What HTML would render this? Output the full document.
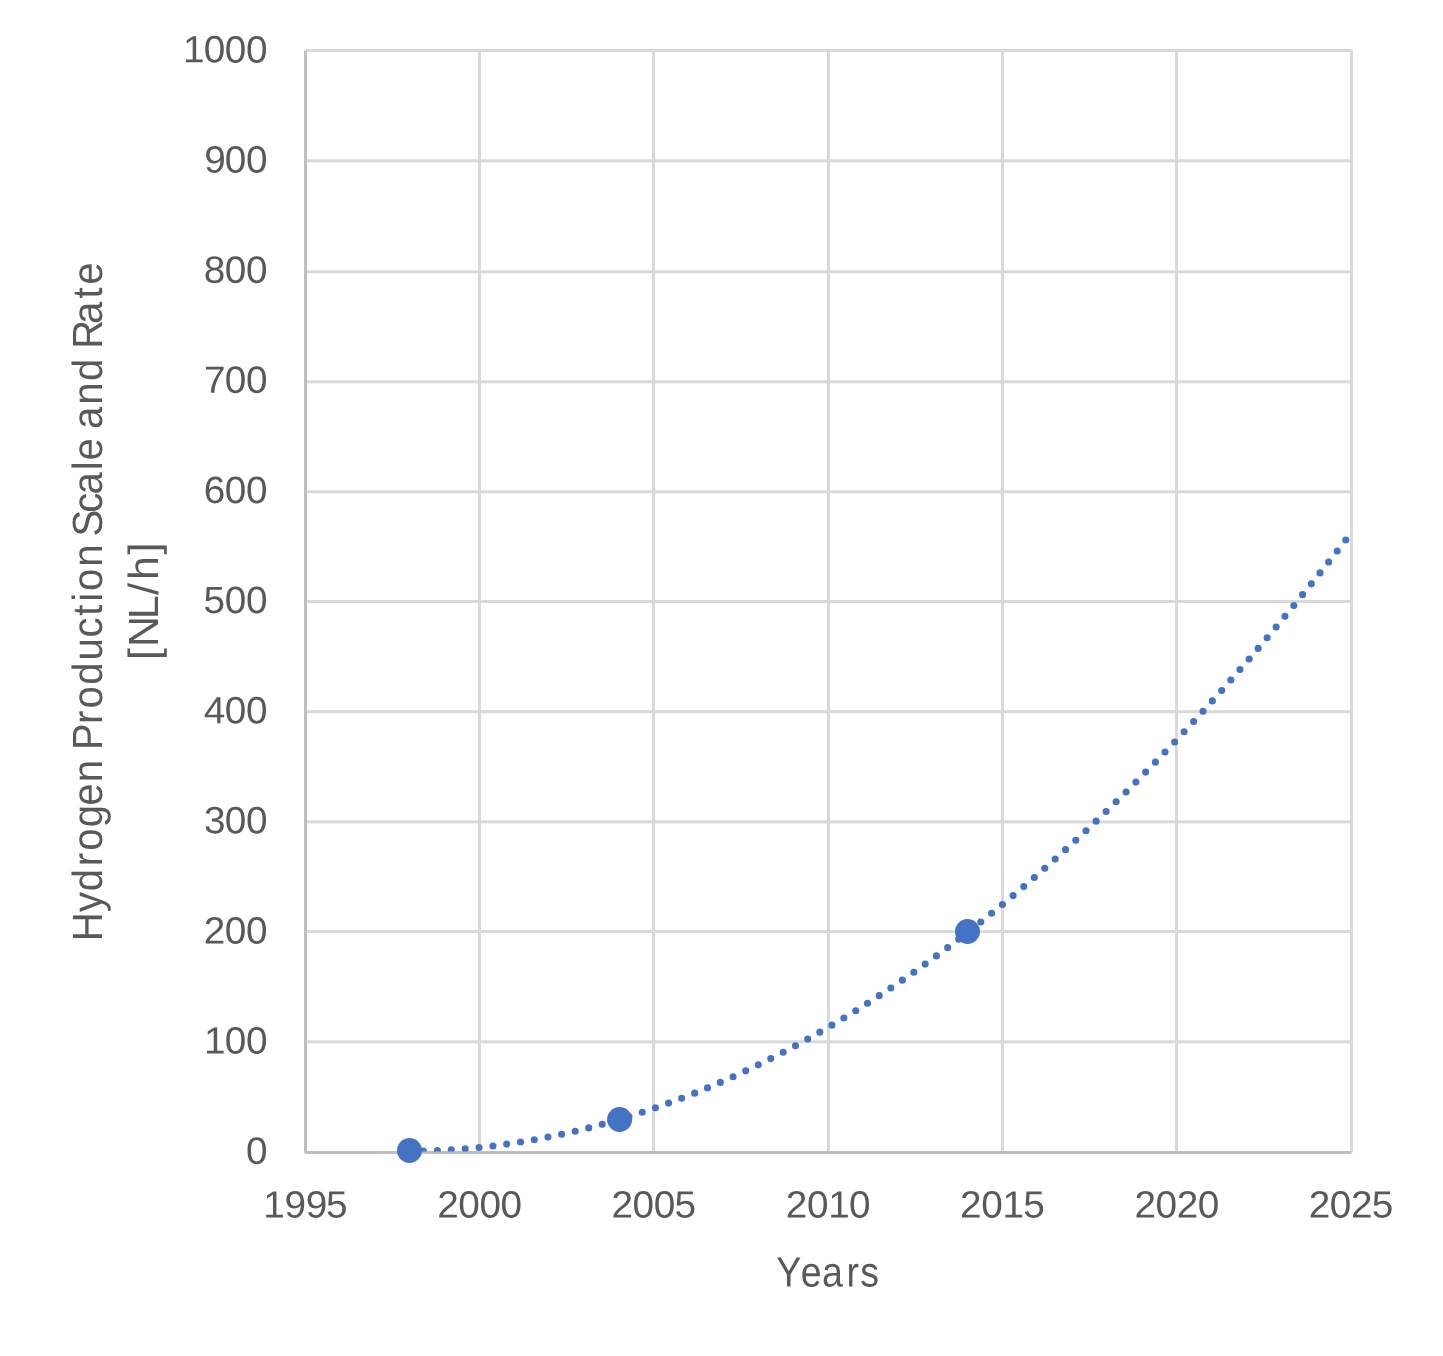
<!DOCTYPE html>
<html lang="en"><head><meta charset="utf-8">
<title>Hydrogen Production Scale and Rate</title>
<style>
html,body{margin:0;padding:0;background:#fff;}
body{width:1443px;height:1356px;overflow:hidden;}
svg{display:block;}
text{font-family:"Liberation Sans",sans-serif;font-kerning:none;text-rendering:geometricPrecision;fill:#595959;}
.tick{font-size:38.0px;}
.title{font-size:42.2px;}
</style></head><body>
<svg width="1443" height="1356" viewBox="0 0 1443 1356">
<rect x="0" y="0" width="1443" height="1356" fill="#ffffff"/>
<g fill="#D9D9D9">
<rect x="305.50" y="49.00" width="1046.00" height="3"/>
<rect x="305.50" y="159.30" width="1047.50" height="3"/>
<rect x="305.50" y="270.30" width="1047.50" height="3"/>
<rect x="305.50" y="380.30" width="1047.50" height="3"/>
<rect x="305.50" y="490.30" width="1047.50" height="3"/>
<rect x="305.50" y="600.00" width="1047.50" height="3"/>
<rect x="305.50" y="710.20" width="1047.50" height="3"/>
<rect x="305.50" y="820.40" width="1047.50" height="3"/>
<rect x="305.50" y="930.00" width="1047.50" height="3"/>
<rect x="305.50" y="1040.30" width="1047.50" height="3"/>
<rect x="478.00" y="49.00" width="3" height="1103.50"/>
<rect x="652.00" y="49.00" width="3" height="1103.50"/>
<rect x="827.00" y="49.00" width="3" height="1103.50"/>
<rect x="1001.00" y="49.00" width="3" height="1103.50"/>
<rect x="1175.00" y="49.00" width="3" height="1103.50"/>
<rect x="1350.00" y="50.50" width="3" height="1102.00"/>
</g>
<g fill="#BFBFBF">
<rect x="305.00" y="1151.00" width="1046.50" height="3"/>
<rect x="304.00" y="50.50" width="3" height="1102.30"/>
</g>
<defs><clipPath id="plot"><rect x="305.50" y="50.50" width="1049.00" height="1101.10"/></clipPath></defs>
<path d="M410.1 1151.4 L415.3 1151.3 L420.6 1151.2 L425.8 1151.1 L431.0 1150.9 L436.2 1150.7 L441.5 1150.5 L446.7 1150.2 L451.9 1149.8 L457.2 1149.5 L462.4 1149.1 L467.6 1148.6 L472.9 1148.1 L478.1 1147.6 L483.3 1147.1 L488.5 1146.5 L493.8 1145.9 L499.0 1145.2 L504.2 1144.5 L509.5 1143.7 L514.7 1143.0 L519.9 1142.1 L525.2 1141.3 L530.4 1140.4 L535.6 1139.5 L540.9 1138.5 L546.1 1137.5 L551.3 1136.4 L556.5 1135.4 L561.8 1134.2 L567.0 1133.1 L572.2 1131.9 L577.5 1130.7 L582.7 1129.4 L587.9 1128.1 L593.2 1126.7 L598.4 1125.4 L603.6 1123.9 L608.8 1122.5 L614.1 1121.0 L619.3 1119.4 L624.5 1117.9 L629.8 1116.3 L635.0 1114.6 L640.2 1112.9 L645.5 1111.2 L650.7 1109.4 L655.9 1107.6 L661.1 1105.8 L666.4 1103.9 L671.6 1102.0 L676.8 1100.1 L682.1 1098.1 L687.3 1096.1 L692.5 1094.0 L697.8 1091.9 L703.0 1089.8 L708.2 1087.6 L713.4 1085.4 L718.7 1083.1 L723.9 1080.8 L729.1 1078.5 L734.4 1076.1 L739.6 1073.7 L744.8 1071.3 L750.0 1068.8 L755.3 1066.3 L760.5 1063.8 L765.7 1061.2 L771.0 1058.5 L776.2 1055.9 L781.4 1053.2 L786.7 1050.4 L791.9 1047.7 L797.1 1044.8 L802.3 1042.0 L807.6 1039.1 L812.8 1036.2 L818.0 1033.2 L823.3 1030.2 L828.5 1027.1 L833.7 1024.1 L839.0 1020.9 L844.2 1017.8 L849.4 1014.6 L854.6 1011.4 L859.9 1008.1 L865.1 1004.8 L870.3 1001.4 L875.6 998.1 L880.8 994.6 L886.0 991.2 L891.3 987.7 L896.5 984.2 L901.7 980.6 L906.9 977.0 L912.2 973.3 L917.4 969.7 L922.6 965.9 L927.9 962.2 L933.1 958.4 L938.3 954.5 L943.6 950.7 L948.8 946.8 L954.0 942.8 L959.2 938.8 L964.5 934.8 L969.7 930.7 L974.9 926.6 L980.2 922.5 L985.4 918.3 L990.6 914.1 L995.9 909.9 L1001.1 905.6 L1006.3 901.3 L1011.6 896.9 L1016.8 892.5 L1022.0 888.1 L1027.2 883.6 L1032.5 879.1 L1037.7 874.5 L1042.9 869.9 L1048.2 865.3 L1053.4 860.6 L1058.6 855.9 L1063.8 851.2 L1069.1 846.4 L1074.3 841.6 L1079.5 836.8 L1084.8 831.9 L1090.0 826.9 L1095.2 822.0 L1100.5 817.0 L1105.7 811.9 L1110.9 806.8 L1116.2 801.7 L1121.4 796.6 L1126.6 791.4 L1131.8 786.2 L1137.1 780.9 L1142.3 775.6 L1147.5 770.2 L1152.8 764.9 L1158.0 759.4 L1163.2 754.0 L1168.4 748.5 L1173.7 743.0 L1178.9 737.4 L1184.1 731.8 L1189.4 726.1 L1194.6 720.5 L1199.8 714.7 L1205.1 709.0 L1210.3 703.2 L1215.5 697.3 L1220.8 691.5 L1226.0 685.6 L1231.2 679.6 L1236.4 673.6 L1241.7 667.6 L1246.9 661.6 L1252.1 655.5 L1257.4 649.3 L1262.6 643.2 L1267.8 636.9 L1273.1 630.7 L1278.3 624.4 L1283.5 618.1 L1288.7 611.7 L1294.0 605.3 L1299.2 598.9 L1304.4 592.4 L1309.7 585.9 L1314.9 579.4 L1320.1 572.8 L1325.3 566.1 L1330.6 559.5 L1335.8 552.8 L1341.0 546.0 L1346.3 539.3 L1351.5 532.5" fill="none" stroke="#4472C4" stroke-width="7.1" stroke-linecap="round" stroke-dasharray="0 13.94" stroke-dashoffset="0.6" clip-path="url(#plot)"/>
<circle cx="409.50" cy="1150.50" r="12.5" fill="#4472C4"/>
<circle cx="619.60" cy="1119.50" r="12.5" fill="#4472C4"/>
<circle cx="967.50" cy="931.50" r="12.5" fill="#4472C4"/>
<text class="tick" transform="matrix(1.0200 0.001 0 1 267.30 62.43)" x="-82.70 -62.33 -41.62 -20.92">1000</text>
<text class="tick" transform="matrix(1.0200 0.001 0 1 267.30 172.56)" x="-61.71 -41.62 -20.92">900</text>
<text class="tick" transform="matrix(1.0200 0.001 0 1 267.30 282.69)" x="-62.33 -41.62 -20.92">800</text>
<text class="tick" transform="matrix(1.0200 0.001 0 1 267.30 392.82)" x="-62.03 -41.62 -20.92">700</text>
<text class="tick" transform="matrix(1.0200 0.001 0 1 267.30 502.95)" x="-62.25 -41.62 -20.92">600</text>
<text class="tick" transform="matrix(1.0200 0.001 0 1 267.30 613.08)" x="-62.57 -41.62 -20.92">500</text>
<text class="tick" transform="matrix(1.0200 0.001 0 1 267.30 723.21)" x="-62.20 -41.62 -20.92">400</text>
<text class="tick" transform="matrix(1.0200 0.001 0 1 267.30 833.34)" x="-62.05 -41.62 -20.92">300</text>
<text class="tick" transform="matrix(1.0200 0.001 0 1 267.30 943.47)" x="-62.28 -41.62 -20.92">200</text>
<text class="tick" transform="matrix(1.0200 0.001 0 1 267.30 1053.60)" x="-62.00 -41.62 -20.92">100</text>
<text class="tick" transform="matrix(1.0200 0.001 0 1 267.30 1163.73)" x="-20.92">0</text>
<text class="tick" transform="matrix(1.0200 0.001 0 1 305.30 1217.43)" x="-41.30 -20.30 0.40 20.25">1995</text>
<text class="tick" transform="matrix(1.0200 0.001 0 1 479.60 1217.43)" x="-41.57 -20.92 -0.21 20.49">2000</text>
<text class="tick" transform="matrix(1.0200 0.001 0 1 653.90 1217.43)" x="-41.57 -20.92 -0.21 20.25">2005</text>
<text class="tick" transform="matrix(1.0200 0.001 0 1 828.20 1217.43)" x="-41.57 -20.92 0.11 20.49">2010</text>
<text class="tick" transform="matrix(1.0200 0.001 0 1 1002.50 1217.43)" x="-41.57 -20.92 0.11 20.25">2015</text>
<text class="tick" transform="matrix(1.0200 0.001 0 1 1176.80 1217.43)" x="-41.57 -20.92 -0.16 20.49">2020</text>
<text class="tick" transform="matrix(1.0200 0.001 0 1 1351.10 1217.43)" x="-41.57 -20.92 -0.16 20.25">2025</text>
<text class="title" transform="matrix(0.8894 0.001 0 1 828.00 1286.50)" x="-58.30 -30.53 -6.84 20.71 36.34">Years</text>
<text class="title" transform="translate(101.70 940.90) rotate(-90) scale(0.9500 1)" x="-0.25 30.31 52.37 78.49 94.86 119.69 142.26 166.98 191.22 200.83 228.38 244.74 269.74 295.25 319.41 342.16 357.09 368.29 393.78 418.02 425.71 450.67 469.81 495.30 505.82 529.48 538.78 564.50 589.31 614.04 623.39 649.49 676.16 690.58">Hydrogen Production Scale and Rate</text>
<text class="title" transform="translate(157.80 601.25) rotate(-90) scale(1.0185 1)" x="-57.74 -45.04 -17.58 6.19 20.85 46.02">[NL/h]</text>
</svg>
</body></html>
